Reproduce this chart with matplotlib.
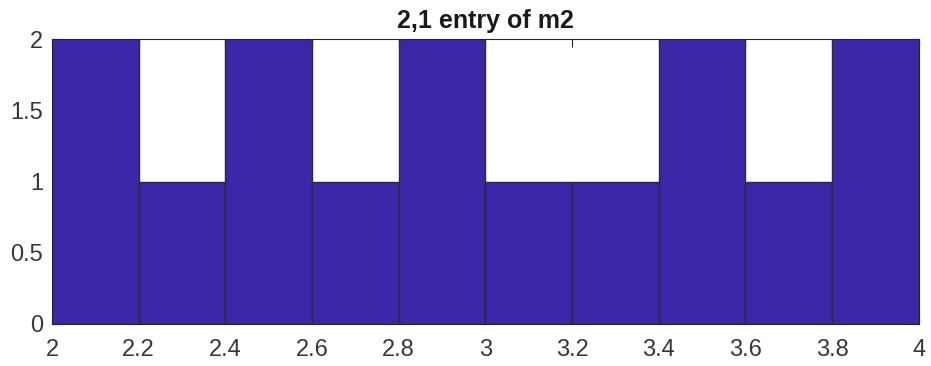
import numpy as np
import matplotlib.pyplot as plt

bin_edges = [2.0, 2.2, 2.4, 2.6, 2.8, 3.0, 3.2, 3.4, 3.6, 3.8, 4.0]
counts = [2, 1, 2, 1, 2, 1, 1, 2, 1, 2]
x_ticks = [2, 2.2, 2.4, 2.6, 2.8, 3, 3.2, 3.4, 3.6, 3.8, 4]
x_labels = ['2', '2.2', '2.4', '2.6', '2.8', '3', '3.2', '3.4', '3.6', '3.8', '4']
y_ticks = [0, 0.5, 1, 1.5, 2]
y_labels = ['0', '0.5', '1', '1.5', '2']

plt.rcParams['font.family'] = ['Liberation Sans', 'DejaVu Sans']

fig = plt.figure(figsize=(9.31, 3.66), dpi=100)
ax = fig.add_axes([0.0559, 0.115, 0.931, 0.778])

widths = np.diff(bin_edges)
ax.bar(bin_edges[:-1], counts, width=widths, align='edge',
       color='#3d26a8', edgecolor='#2a2a3a', linewidth=1.0, zorder=2)

ax.set_xlim(2, 4)
ax.set_ylim(0, 2)
ax.set_xticks(x_ticks)
ax.set_xticklabels(x_labels)
ax.set_yticks(y_ticks)
ax.set_yticklabels(y_labels)
ax.tick_params(direction='in', length=6, width=0.8, top=True, right=True,
               labelsize=17, colors='#262626', labelcolor='#383838')
ax.tick_params(axis='x', pad=11)
ax.tick_params(axis='y', pad=6.5)
for s in ax.spines.values():
    s.set_color('#262626')
    s.set_linewidth(0.8)
ax.set_title('2,1 entry of m2', fontsize=18, fontweight='bold', pad=8,
             color='#1a1a1a')

fig.savefig('out.png', dpi=100)
